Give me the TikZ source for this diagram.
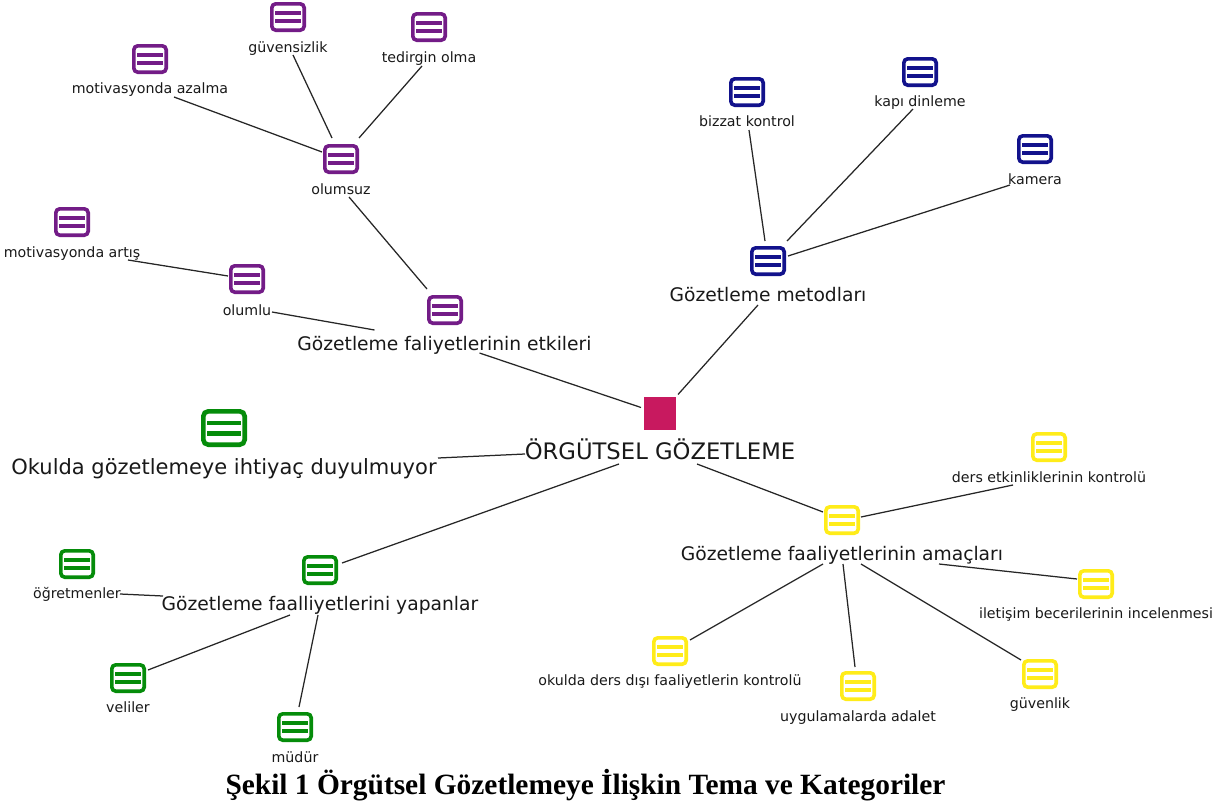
\documentclass[tikz,border=0pt]{standalone}
\usepackage{fontspec}
\setmainfont{DejaVu Sans}
\newfontfamily\capfont{Liberation Serif}
\tikzset{x=1pt,y=-1pt,
 iconbox/.style={draw=#1,fill=white,line width=3.6pt,rounded corners=4pt,minimum width=32.4pt,minimum height=26.4pt,inner sep=0pt},
 bigbox/.style={draw=#1,fill=white,line width=4.6pt,rounded corners=5pt,minimum width=41.4pt,minimum height=33.4pt,inner sep=0pt},
 rootbox/.style={fill=#1,minimum width=32pt,minimum height=33pt,inner sep=0pt},
 smalltxt/.style={inner sep=0pt,text=black!90,yshift=-1.5pt,font=\fontsize{14.2}{16}\selectfont},
 midtxt/.style={inner sep=0pt,text=black!90,yshift=-2pt,font=\fontsize{18.7}{22}\selectfont},
 roottxt/.style={inner sep=0pt,text=black!90,font=\fontsize{22.7}{27}\selectfont},
 bigtxt/.style={inner sep=0pt,text=black!90,yshift=-1.5pt,font=\fontsize{21}{25}\selectfont},
 captxt/.style={inner sep=0pt,text=black,font=\capfont\bfseries\fontsize{29.4}{33}\selectfont},
 conn/.style={draw=black!85,line width=1.25pt}}
\definecolor{cpur}{RGB}{115,28,135}
\definecolor{cnav}{RGB}{18,18,140}
\definecolor{cgre}{RGB}{5,140,10}
\definecolor{cyel}{RGB}{255,236,25}
\definecolor{cred}{RGB}{200,25,95}
% name, x, y, colour
\newcommand{\icn}[4]{\node[iconbox=#4] (#1) at (#2,#3) {};
 \fill[#4] ([shift={(-13,-5.6)}]#1.center) rectangle ([shift={(13,-2)}]#1.center);
 \fill[#4] ([shift={(-13,2)}]#1.center) rectangle ([shift={(13,5.6)}]#1.center);}
% a, offset, b, offset
\newcommand{\lnk}[4]{\draw[conn] ([shift={(#2)}]#1.center) -- ([shift={(#4)}]#3.center);}
\begin{document}
\begin{tikzpicture}
\useasboundingbox (0,0) rectangle (1229,803);
\fill[white] (0,0) rectangle (1229,803);
% purple
\icn{azi}{150}{59}{cpur} \node[smalltxt] (azt) at (150,88) {motivasyonda azalma};
\icn{gvi}{288}{17}{cpur} \node[smalltxt] (gvt) at (288,47) {güvensizlik};
\icn{tdi}{429}{27}{cpur} \node[smalltxt] (tdt) at (429,57) {tedirgin olma};
\icn{smi}{341}{159}{cpur} \node[smalltxt] (smt) at (341,188) {olumsuz};
\icn{ati}{72}{222}{cpur} \node[smalltxt] (att) at (72,252) {motivasyonda artış};
\icn{omi}{247}{279}{cpur} \node[smalltxt] (omt) at (247,309) {olumlu};
\icn{eki}{445}{310}{cpur} \node[midtxt] (ekt) at (444.5,343) {Gözetleme faliyetlerinin etkileri};
% navy
\icn{bzi}{747}{92}{cnav} \node[smalltxt] (bzt) at (747,120) {bizzat kontrol};
\icn{kpi}{920}{72}{cnav} \node[smalltxt] (kpt) at (920,101) {kapı dinleme};
\icn{kmi}{1035}{149}{cnav} \node[smalltxt] (kmt) at (1035,178) {kamera};
\icn{mti}{768}{261}{cnav} \node[midtxt] (mtt) at (768,293) {Gözetleme metodları};
% root
\node[rootbox=cred] (root) at (660,413.5) {};
\node[roottxt] (roott) at (660,449) {ÖRGÜTSEL GÖZETLEME};
% big green
\node[bigbox=cgre] (oki) at (224,428) {};
\fill[cgre] ([shift={(-17,-7.5)}]oki.center) rectangle ([shift={(17,-3)}]oki.center);
\fill[cgre] ([shift={(-17,3)}]oki.center) rectangle ([shift={(17,7.5)}]oki.center);
\node[bigtxt] (okt) at (224,467) {Okulda gözetlemeye ihtiyaç duyulmuyor};
% green
\icn{yai}{320}{570}{cgre} \node[midtxt] (yat) at (320,603) {Gözetleme faalliyetlerini yapanlar};
\icn{ogi}{77}{564}{cgre} \node[smalltxt] (ogt) at (77,593) {öğretmenler};
\icn{vli}{128}{678}{cgre} \node[smalltxt] (vlt) at (128,706) {veliler};
\icn{mdi}{295}{727}{cgre} \node[smalltxt] (mdt) at (295,756) {müdür};
% yellow
\icn{ami}{842}{520}{cyel} \node[midtxt] (amt) at (842,553) {Gözetleme faaliyetlerinin amaçları};
\icn{dri}{1049}{447}{cyel} \node[smalltxt] (drt) at (1049,476) {ders etkinliklerinin kontrolü};
\icn{ili}{1096}{584}{cyel} \node[smalltxt] (ilt) at (1096,613) {iletişim becerilerinin incelenmesi};
\icn{gni}{1040}{674}{cyel} \node[smalltxt] (gnt) at (1040,703) {güvenlik};
\icn{uyi}{858}{686}{cyel} \node[smalltxt] (uyt) at (858,716) {uygulamalarda adalet};
\icn{odi}{670}{651}{cyel} \node[smalltxt] (odt) at (670,680) {okulda ders dışı faaliyetlerin kontrolü};
% connectors (offsets from the node centres)
\lnk{azt}{24,7.5}{smi}{-19,-7}
\lnk{gvt}{5,6.5}{smi}{-9,-21}
\lnk{tdt}{-7,7.5}{smi}{18,-21}
\lnk{smt}{8,7.5}{eki}{-18,-21}
\lnk{att}{56,6.5}{omi}{-19,-3}
\lnk{omt}{25,1.5}{ekt}{-70,-15}
\lnk{ekt}{35,8}{root}{-19,-6}
\lnk{mtt}{-10,10}{root}{18,-19}
\lnk{bzt}{2,8.5}{mti}{-3,-20}
\lnk{kpt}{-7,6.5}{mti}{19,-20}
\lnk{kmt}{-25,5.5}{mti}{20,-5}
\lnk{okt}{214,-10.5}{roott}{-135,5}
\lnk{roott}{-41,15}{yai}{22,-7}
\lnk{ogt}{43,-0.5}{yat}{-157,-9}
\lnk{yat}{-30,10}{vli}{20,-8}
\lnk{yat}{-2,10}{mdi}{4,-20}
\lnk{roott}{37,15}{ami}{-19,-8}
\lnk{ami}{19,-3}{drt}{-36,7.5}
\lnk{amt}{97,9}{ili}{-19,-5}
\lnk{amt}{19,9}{gni}{-19,-14}
\lnk{amt}{1,9}{uyi}{-3,-19}
\lnk{amt}{-19,9}{odi}{20,-11}
% caption
\node[captxt] (cap) at (585.5,785) {Şekil 1 Örgütsel Gözetlemeye İlişkin Tema ve Kategoriler};
\end{tikzpicture}
\end{document}
